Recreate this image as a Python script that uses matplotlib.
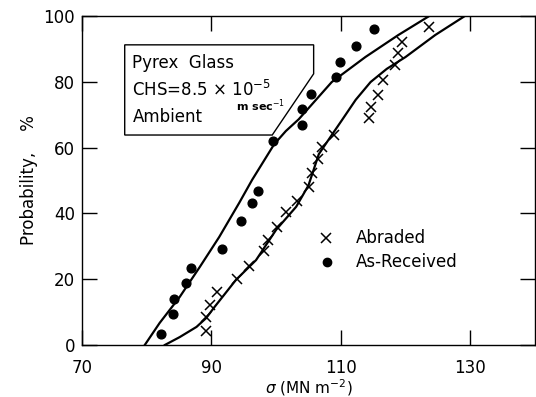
import matplotlib
matplotlib.use("Agg")
import matplotlib.pyplot as plt
from matplotlib.patches import Polygon

# As-Received (dots)
recv_x = [82.2, 84.0, 84.2, 86.1, 86.9, 91.7, 94.6, 96.2, 97.2, 99.5,
          104.0, 104.0, 105.4, 109.2, 109.8, 112.3, 115.1]
recv_y = [3.3, 9.4, 14.0, 18.8, 23.4, 29.2, 37.7, 43.2, 46.8, 62.0,
          66.9, 71.7, 76.3, 81.5, 86.0, 90.9, 96.0]

# Abraded (crosses)
abr_x = [89.1, 89.2, 89.8, 90.9, 94.0, 95.8, 98.2, 98.8, 100.2, 101.5,
         103.2, 105.1, 105.5, 106.5, 107.1, 108.9, 114.3, 114.6, 115.8,
         116.5, 118.3, 118.8, 119.4, 123.7]
abr_y = [4.3, 8.5, 12.2, 16.1, 20.1, 24.0, 28.6, 31.9, 35.9, 40.4,
         43.8, 48.0, 52.3, 56.5, 60.2, 63.8, 69.0, 72.3, 76.0,
         80.5, 85.1, 88.7, 92.1, 96.7]

# Fitted curves
recv_curve_x = [79.7, 82.0, 85.1, 88.2, 91.2, 94.3, 96.3, 99.7, 101.5, 103.5,
                108.6, 113.8, 118.9, 123.7]
recv_curve_y = [0.0, 6.7, 14.6, 23.7, 32.8, 43.2, 50.2, 61.0, 65.0, 68.6,
                79.9, 87.5, 94.2, 100.0]

abr_curve_x = [82.8, 85.1, 87.7, 89.2, 90.5, 93.8, 96.9, 100.0, 103.1, 105.0,
               106.6, 108.6, 110.2, 112.3, 114.6, 117.1, 120.0, 124.6, 129.2]
abr_curve_y = [0.0, 2.4, 5.5, 8.2, 11.6, 19.8, 25.8, 35.0, 42.0, 48.5,
               58.0, 63.8, 68.4, 74.5, 79.9, 83.9, 87.5, 94.2, 100.0]

xticks = [70, 90, 110, 130]
yticks = [0, 20, 40, 60, 80, 100]

plt.rcParams['font.family'] = ['DejaVu Sans']

fig = plt.figure(figsize=(5.36, 3.97), dpi=100)
ax = fig.add_axes([0.153, 0.131, 0.845, 0.829])

ax.plot(recv_curve_x, recv_curve_y, color='black', lw=1.6)
ax.plot(abr_curve_x, abr_curve_y, color='black', lw=1.6)
ax.plot(recv_x, recv_y, 'o', color='black', ms=6.3, ls='none')
ax.plot(abr_x, abr_y, 'x', color='black', ms=7.5, mew=1.1, ls='none')

ax.set_xlim(70, 140)
ax.set_ylim(0, 100)
ax.set_xticks(xticks)
ax.set_yticks(yticks)
ax.tick_params(direction='in', length=11, width=1, labelsize=12,
               top=True, right=True, pad=10)
ax.tick_params(axis='y', pad=5)
for s in ax.spines.values():
    s.set_linewidth(1)

ax.set_xlabel(r'$\sigma$ (MN m$^{-2}$)', fontsize=11, labelpad=0)
ax.set_ylabel('Probability,    %', fontsize=12, labelpad=4)

# annotation box
box = Polygon([[76.6, 91.2], [105.8, 91.2], [105.8, 82.4], [99.4, 63.8], [76.6, 63.8]],
              closed=True, facecolor='white', edgecolor='black', lw=1, zorder=3)
ax.add_patch(box)
ax.text(77.8, 85.7, 'Pyrex  Glass', fontsize=12, va='center', ha='left', zorder=4)
ax.text(77.8, 77.5, r'CHS=8.5 $\times$ 10$^{-5}$', fontsize=12, va='center', ha='left', zorder=4)
ax.text(77.8, 69.3, 'Ambient', fontsize=12, va='center', ha='left', zorder=4)
ax.text(93.8, 72.6, r'm sec$^{-1}$', fontsize=8, va='center', ha='left', zorder=4,
        fontweight='bold')

# legend drawn as text
ax.plot([107.7], [32.5], 'x', color='black', ms=7, mew=1.1)
ax.plot([107.9], [25.2], 'o', color='black', ms=6)
ax.text(112.3, 32.5, 'Abraded', fontsize=12, va='center', ha='left')
ax.text(112.3, 25.2, 'As-Received', fontsize=12, va='center', ha='left')

fig.savefig('out.png', dpi=100)
